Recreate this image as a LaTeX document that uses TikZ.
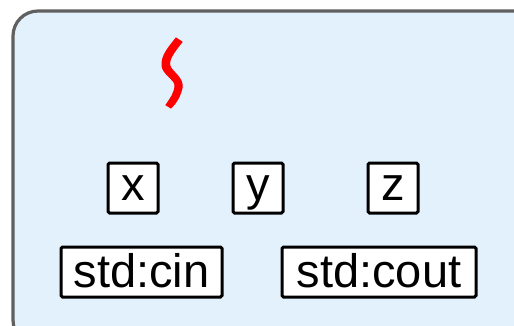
\documentclass[tikz,border=0pt]{standalone}
\usepackage{fontspec}
\setmainfont{Liberation Sans}
\definecolor{panelfill}{HTML}{E3F1FD}
\definecolor{panelline}{HTML}{606060}
\tikzset{
  panel/.style={draw=panelline, fill=panelfill, line width=3.2pt, rounded corners=25pt},
  lbl/.style={draw=black, fill=white, line width=3pt, rounded corners=1.5pt, inner sep=0pt,
     font=\fontsize{47}{52}\selectfont},
  small/.style={lbl, minimum width=50pt, text height=37pt, text depth=13pt},
  wide/.style={lbl, text height=40pt, text depth=10pt},
  squig/.style={draw=red, fill=red, line width=1pt}
}
\begin{document}
\begin{tikzpicture}[x=1pt,y=-1pt]
\useasboundingbox (0,0) rectangle (514,325);
\begin{scope}
\clip (0,0) rectangle (514,325);
\draw[panel] (13,11) rectangle (540,345);
\end{scope}
\path[squig] (176,38) -- (182,42)
  .. controls (174,52) and (168,60) .. (170,66)
  .. controls (172,72) and (184,78) .. (182,88)
  .. controls (180,97) and (176,103) .. (171,108)
  -- (166,105)
  .. controls (170,99) and (175,93) .. (175,85)
  .. controls (175,80) and (163,74) .. (162,66)
  .. controls (161,55) and (170,46) .. (176,38) -- cycle;
\node[small] (x) at (133,188) {x};
\node[small] (y) at (258,188) {y};
\node[small] (z) at (393,188) {z};
\node[wide, minimum width=161pt] (cin) at (141.5,272) {std:cin};
\node[wide, minimum width=194pt] (cout) at (379,272) {std:cout};
\end{tikzpicture}
\end{document}
